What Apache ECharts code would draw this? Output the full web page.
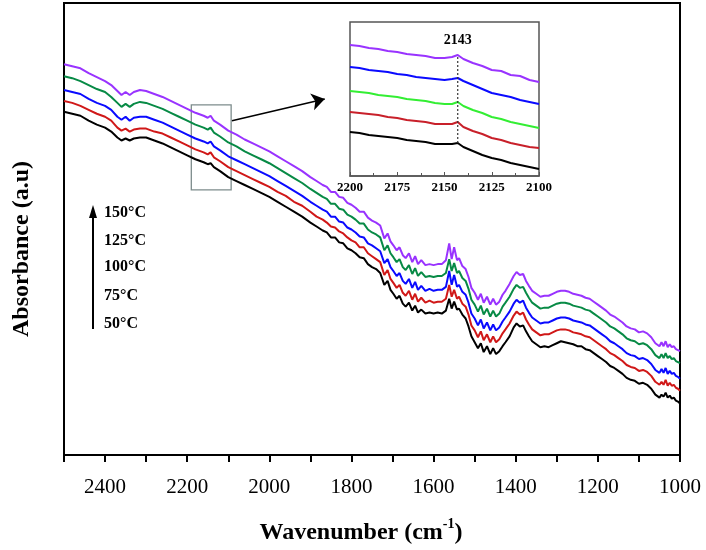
<!DOCTYPE html>
<html>
<head>
<meta charset="utf-8">
<script src="https://cdn.jsdelivr.net/npm/echarts@6/dist/echarts.min.js"></script>
<style>html,body{margin:0;padding:0;background:#fff;}#c{width:706px;height:550px;}</style>
</head>
<body>
<div id="c"></div>
<script>
// ---- main spectrum data (wavenumber, cm-1) ----
const wn = [
2500,2480,2460,2440,2420,2400,2385,2370,2360,2350,
2340,2330,2315,2300,2280,2260,2240,2220,2200,2180,
2160,2150,2143,2135,2120,2100,2080,2060,2040,2020,
2000,1980,1960,1940,1920,1900,1885,1870,1860,1850,
1840,1830,1820,1810,1800,1790,1780,1770,1760,1750,
1740,1730,1720,1712,1705,1698,1690,1683,1675,1668,
1660,1652,1645,1638,1630,1620,1610,1600,1590,1580,
1570,1562,1556,1550,1543,1538,1530,1522,1515,1508,
1500,1492,1485,1478,1470,1462,1455,1448,1440,1432,
1425,1415,1405,1398,1390,1382,1375,1368,1360,1350,
1340,1330,1320,1310,1300,1290,1280,1270,1260,1250,
1240,1230,1220,1210,1200,1190,1180,1170,1160,1150,
1140,1130,1120,1110,1100,1090,1080,1070,1060,1050,
1045,1040,1035,1030,1025,1020,1015,1010,1005,1000];

const abs50 = [
347,345,343,338,334,331,327,321,318,320,
318,320,321,321,318,315,311,307,303,299,
296,294,295,291,287,281,277,273,269,265,
261,256,251,246,241,235,231,227,225,220,
220,215,214,209,207,204,200,199,193,190,
188,184,172,176,167,163,158,161,153,150,
154,146,151,144,147,143,144,143,144,143,
146,158,148,155,147,148,142,138,130,120,
114,108,113,104,110,102,108,102,105,110,
114,120,129,133,130,131,125,120,115,112,
109,110,109,111,113,115,114,113,112,110,
110,107,106,103,100,97,94,90,88,85,
82,78,76,75,72,73,71,67,61,58,
61,59,63,58,60,57,58,55,54,52];

const abs75 = [
358,356,353,349,345,342,338,331,328,330,
327,329,330,330,327,325,321,317,313,309,
306,304,306,301,297,291,287,283,279,275,
271,266,262,256,252,246,241,238,235,231,
230,226,224,220,217,215,210,210,204,201,
198,195,182,187,178,174,169,172,164,161,
166,157,163,155,159,154,156,154,155,155,
158,172,160,167,158,160,153,150,142,131,
126,119,125,116,122,114,120,114,117,123,
127,133,141,145,142,144,137,132,127,124,
121,122,122,124,126,127,127,126,124,123,
122,120,119,116,113,110,107,103,101,98,
95,91,89,88,85,86,84,80,74,71,
74,71,76,70,73,70,71,68,67,65];

const abs100 = [
369,367,365,360,356,353,349,342,339,342,
338,341,342,342,339,336,332,328,324,320,
317,315,317,312,308,302,298,294,290,286,
282,277,272,267,262,256,252,248,246,241,
241,236,235,230,228,225,221,220,214,212,
209,206,194,198,190,186,181,184,176,173,
178,169,175,167,171,166,168,166,167,167,
170,186,172,182,170,172,165,162,154,143,
138,131,137,128,134,126,132,126,129,135,
139,145,153,157,154,156,149,144,139,136,
133,134,134,136,138,139,139,138,136,135,
134,132,131,128,125,122,119,115,113,110,
107,103,101,100,97,98,96,92,86,83,
87,83,88,82,85,82,83,80,79,77];

const abs125 = [
383,381,378,374,370,367,362,356,352,355,
352,355,357,356,353,350,346,342,338,334,
331,329,331,326,322,316,312,307,303,299,
295,290,285,280,275,269,265,261,259,254,
254,249,248,243,241,238,234,234,228,225,
223,220,207,212,204,200,195,198,190,187,
192,183,189,181,185,180,181,180,181,181,
184,198,186,194,184,186,179,176,168,157,
152,145,151,142,148,140,146,140,143,150,
154,160,168,172,169,170,164,159,154,151,
148,149,149,151,153,154,154,153,151,150,
149,147,146,143,140,137,134,130,128,125,
122,118,116,115,112,113,111,107,101,98,
102,98,103,98,100,97,98,95,94,93];

const abs150 = [
395,393,391,386,382,378,374,368,364,367,
364,367,369,368,365,362,358,354,350,346,
343,341,343,338,334,328,324,319,315,311,
307,302,297,292,287,281,277,273,271,266,
266,261,260,255,253,250,246,246,240,237,
235,232,219,224,216,212,207,210,202,199,
204,195,201,193,197,192,193,192,193,193,
197,214,198,210,197,199,191,188,180,169,
164,157,163,154,160,152,158,152,155,162,
166,173,181,185,182,183,176,171,166,163,
160,161,161,163,165,166,166,165,163,162,
161,159,158,155,152,149,146,142,140,137,
134,130,128,127,124,125,123,119,113,110,
114,110,115,109,112,109,110,107,106,105];

// ---- inset (2200-2100 cm-1) data ----
const insetWn  = [2200,2195,2190,2185,2180,2175,2170,2165,2160,2155,2150,2146,2143,2140,2135,2130,2125,2120,2115,2110,2105,2100];
const inset50  = [44,43,41,40,39,38,36,35,34,32,32,32,33,29,25,21,18,16,13,11,9,7];
const inset75  = [64,63,62,61,59,58,56,55,54,52,52,52,54,49,45,42,38,36,33,31,29,28];
const inset100 = [85,84,83,81,80,79,77,76,75,73,72,72,74,70,66,63,59,57,54,52,50,48];
const inset125 = [109,108,106,105,104,102,101,99,98,97,96,97,98,95,91,87,83,81,79,76,74,72];
const inset150 = [131,130,128,127,125,124,122,121,120,118,118,119,121,117,113,110,106,105,101,100,96,94];
const peakWn = 2143;
const peakLabel = '2143';

// zoom box and arrow (data coordinates of main plot)
const boxWn = [2190, 2093];
const boxAbs = [268, 354];
const arrowFrom = [2091, 338];
const arrowTo = [1865, 360];

const tempLabels = ['150°C','125°C','100°C','75°C','50°C'];
const mainColors = ['#000000','#d01818','#0a0aff','#078a45','#9933ff'];
const insetColors = ['#000000','#c8202a','#33ee33','#0a0aff','#9933ff'];

const FONT = 'Liberation Serif, Times New Roman, serif';
const mainSets = [abs50, abs75, abs100, abs125, abs150];
const insetSets = [inset50, inset75, inset100, inset125, inset150];

const series = [];
mainSets.forEach((arr, k) => {
  const s = {
    type: 'line', xAxisIndex: 0, yAxisIndex: 0, symbol: 'none', silent: true,
    lineStyle: { color: mainColors[k], width: 2 },
    data: wn.map((w, i) => [w, arr[i]])
  };
  if (k === 0) {
    s.markArea = {
      silent: true,
      itemStyle: { color: 'rgba(0,0,0,0)', borderColor: '#7d8c8c', borderWidth: 1.3 },
      data: [[{ xAxis: boxWn[0], yAxis: boxAbs[0] }, { xAxis: boxWn[1], yAxis: boxAbs[1] }]]
    };
    s.markLine = {
      silent: true, symbol: ['none', 'arrow'], symbolSize: 13,
      label: { show: false },
      lineStyle: { color: '#000', width: 1.6, type: 'solid' },
      data: [[{ coord: arrowFrom }, { coord: arrowTo }]]
    };
  }
  series.push(s);
});
insetSets.forEach((arr, k) => {
  series.push({
    type: 'line', xAxisIndex: 1, yAxisIndex: 1, symbol: 'none', silent: true, z: 6,
    lineStyle: { color: insetColors[k], width: 2 },
    data: insetWn.map((w, i) => [w, arr[i]])
  });
});
const pi = insetWn.indexOf(peakWn);
series.push({
  type: 'line', xAxisIndex: 1, yAxisIndex: 1, symbol: 'none', silent: true, z: 7,
  lineStyle: { color: '#333', width: 1.2, type: [2, 2] },
  data: [[peakWn, inset50[pi]], [peakWn, inset150[pi]]],
  markPoint: {
    silent: true, symbol: 'circle', symbolSize: 0,
    label: { show: true, formatter: peakLabel, position: 'top', distance: 8,
      color: '#000', fontFamily: FONT, fontWeight: 'bold', fontSize: 14 },
    data: [{ coord: [peakWn, inset150[pi]] }]
  }
});

const graphic = [
  { type: 'line', shape: { x1: 93, y1: 329, x2: 93, y2: 214 }, style: { stroke: '#000', lineWidth: 2 } },
  { type: 'polygon', shape: { points: [[93, 205], [89, 218], [97, 218]] }, style: { fill: '#000' } }
];
const labelY = [213, 241, 267, 296, 324];
tempLabels.forEach((t, i) => {
  graphic.push({ type: 'text', x: 104, y: labelY[i],
    style: { text: t, fill: '#000', font: 'bold 16px ' + FONT, textVerticalAlign: 'middle' } });
});

const option = {
  animation: false,
  backgroundColor: '#fff',
  grid: [
    { left: 64, top: 3, right: 26, bottom: 90, show: true, borderColor: '#000', borderWidth: 2 },
    { left: 350, top: 22, right: 167, bottom: 374, show: true, borderColor: '#555', borderWidth: 1.5, backgroundColor: '#fff', z: 5 }
  ],
  xAxis: [
    { gridIndex: 0, type: 'value', min: 1000, max: 2500, interval: 100, inverse: true,
      axisLine: { show: true, onZero: false, lineStyle: { color: '#000', width: 2 } },
      axisTick: { show: true, length: 7, lineStyle: { color: '#000', width: 2 } },
      splitLine: { show: false },
      axisLabel: { formatter: v => (v % 200 === 0 ? String(v) : ''), color: '#000', fontFamily: FONT, fontSize: 21, margin: 22 },
      name: '{a|Wavenumber (cm}{s|-1}{a|)}', nameLocation: 'middle', nameGap: 62,
      nameTextStyle: { padding: [0, 22, 0, 0], rich: {
        a: { fontFamily: FONT, fontWeight: 'bold', fontSize: 24, color: '#000', verticalAlign: 'bottom', lineHeight: 28 },
        s: { fontFamily: FONT, fontWeight: 'bold', fontSize: 14, color: '#000', verticalAlign: 'top', lineHeight: 28 } } }
    },
    { gridIndex: 1, type: 'value', min: 2100, max: 2200, interval: 25, inverse: true, z: 6,
      axisLine: { show: true, onZero: false, lineStyle: { color: '#555', width: 1.5 } },
      axisTick: { show: true, inside: true, length: 4, lineStyle: { color: '#555' } },
      minorTick: { show: true, splitNumber: 2, length: 3, lineStyle: { color: '#555' } },
      splitLine: { show: false },
      axisLabel: { formatter: v => String(v), color: '#000', fontFamily: FONT, fontWeight: 'bold', fontSize: 13, margin: 5 }
    }
  ],
  yAxis: [
    { gridIndex: 0, type: 'value', min: 0, max: 457,
      axisLine: { show: false }, axisTick: { show: false }, axisLabel: { show: false }, splitLine: { show: false },
      name: 'Absorbance (a.u)', nameLocation: 'middle', nameGap: 30,
      nameTextStyle: { fontFamily: FONT, fontWeight: 'bold', fontSize: 24, color: '#000', padding: [0, 40, 0, 0] }
    },
    { gridIndex: 1, type: 'value', min: 0, max: 154, show: false }
  ],
  graphic: graphic,
  series: series
};
const chart = echarts.init(document.getElementById('c'), null, { renderer: 'canvas' });
chart.setOption(option);
</script>
</body>
</html>
